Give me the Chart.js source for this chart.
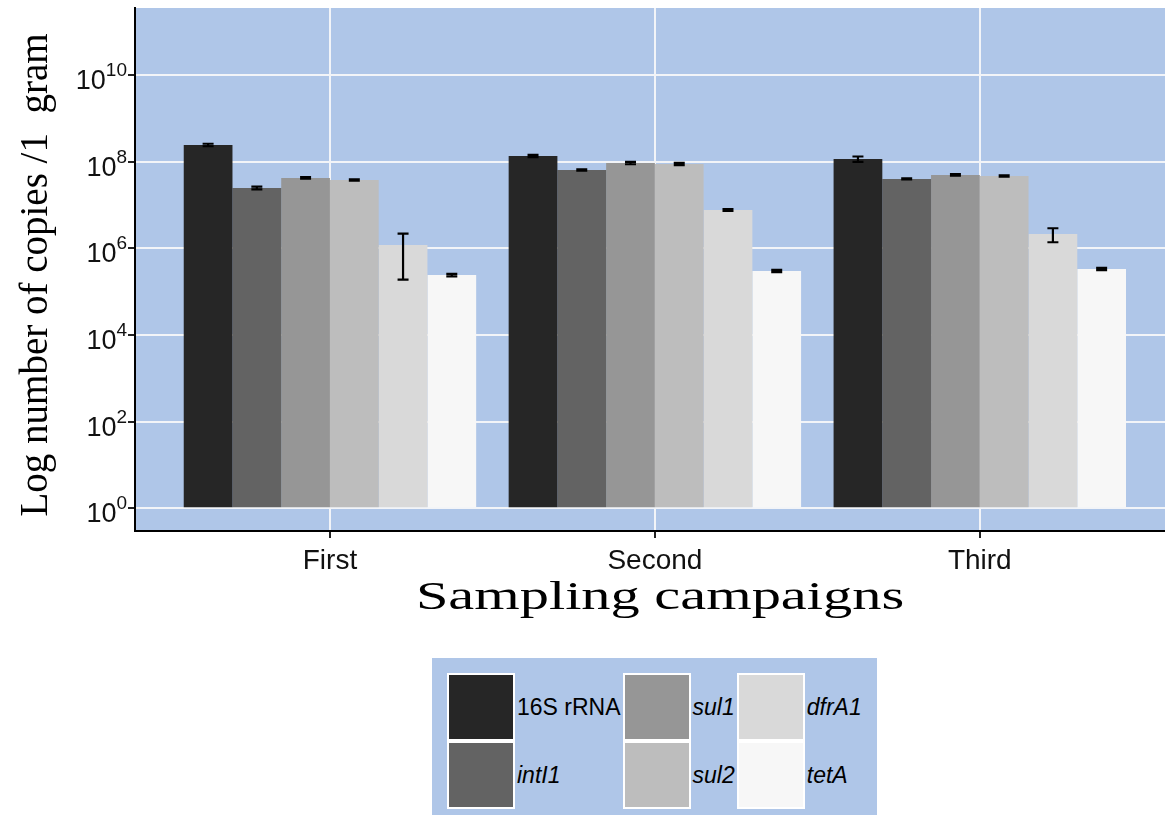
<!DOCTYPE html>
<html>
<head>
<meta charset="utf-8">
<title>Gene copies per sampling campaign</title>
<script src="https://cdn.jsdelivr.net/npm/chart.js@4.4.1/dist/chart.umd.min.js"></script>
<style>
  html, body { margin: 0; padding: 0; background: #fff; overflow: hidden; }
  #wrap { position: relative; width: 1165px; height: 820px; }
  #legend {
    position: absolute; left: 432px; top: 658px;
    background: #AFC6E8;
    padding: 15px 15px 6px 15px;
    display: grid;
    grid-template-rows: 68px 68px;
    grid-auto-flow: column;
    column-gap: 2px;
    font-family: 'Liberation Sans', Arial, sans-serif;
    font-size: 23px;
    color: #000;
  }
  .item { display: flex; align-items: center; }
  .key { display: block; width: 64px; height: 64px; border: 2px solid #fff; }
  .label { margin-left: 2px; }
  .label.gene { font-style: italic; }
</style>
</head>
<body>
<div id="wrap">
  <canvas id="copiesChart" width="1165" height="820"></canvas>
  <div id="legend"></div>
</div>
<script>
// campaigns and genes
const campaigns = ['First', 'Second', 'Third'];
const genes = ['16S rRNA', 'intI1', 'sul1', 'sul2', 'dfrA1', 'tetA'];
const geneColors = ['#262626', '#636363', '#969696', '#BDBDBD', '#D9D9D9', '#F7F7F7'];

// mean copies per gram (First, Second, Third)
const copies16S   = [2.42e8, 1.35e8, 1.15e8];
const copiesIntI1 = [2.47e7, 6.41e7, 3.98e7];
const copiesSul1  = [4.2e7, 9.3e7, 4.92e7];
const copiesSul2  = [3.77e7, 8.83e7, 4.67e7];
const copiesDfrA1 = [1.19e6, 7.66e6, 2.14e6];
const copiesTetA  = [2.42e5, 3.0e5, 3.33e5];

// standard deviations
const sd16S   = [1.6e7, 8e6, 1.6e7];
const sdIntI1 = [1.8e6, 2.5e6, 1.2e6];
const sdSul1  = [1.8e6, 6e6, 2e6];
const sdSul2  = [1.5e6, 5e6, 1.8e6];
const sdDfrA1 = [1.0e6, 4e5, 7.6e5];
const sdTetA  = [1.6e4, 1.7e4, 2e4];

// y axis: powers of ten shown
const yTicks = [1, 1e2, 1e4, 1e6, 1e8, 1e10];

const geneMeans = [copies16S, copiesIntI1, copiesSul1, copiesSul2, copiesDfrA1, copiesTetA];
const geneSds = [sd16S, sdIntI1, sdSul1, sdSul2, sdDfrA1, sdTetA];

const panelBlue = '#AFC6E8';
const gridWhite = '#F2F4F8';

// panel background
const plotBackground = {
    id: 'plotBackground',
    beforeDraw(chart) {
        const {ctx, chartArea: a} = chart;
        ctx.save();
        ctx.fillStyle = panelBlue;
        ctx.fillRect(a.left, a.top, a.right - a.left, a.bottom - a.top);
        ctx.restore();
    }
};

// mean +/- sd whiskers
const errorBars = {
    id: 'errorBars',
    afterDatasetsDraw(chart) {
        const {ctx} = chart;
        const y = chart.scales.y;
        ctx.save();
        ctx.strokeStyle = '#000';
        ctx.lineWidth = 2.2;
        chart.data.datasets.forEach((ds, di) => {
            const meta = chart.getDatasetMeta(di);
            meta.data.forEach((bar, i) => {
                const m = ds.data[i].y;
                const s = ds.sd[i];
                const top = y.getPixelForValue(m + s);
                const bottom = y.getPixelForValue(m - s);
                const half = 5.5;
                ctx.beginPath();
                ctx.moveTo(bar.x, top);
                ctx.lineTo(bar.x, bottom);
                ctx.moveTo(bar.x - half, top);
                ctx.lineTo(bar.x + half, top);
                ctx.moveTo(bar.x - half, bottom);
                ctx.lineTo(bar.x + half, bottom);
                ctx.stroke();
            });
        });
        ctx.restore();
    }
};

// y labels with superscript exponents, axis titles
const axisText = {
    id: 'axisText',
    afterDraw(chart) {
        const {ctx, chartArea: a} = chart;
        const y = chart.scales.y;
        ctx.save();
        ctx.fillStyle = '#111';
        ctx.textAlign = 'right';
        ctx.textBaseline = 'alphabetic';
        yTicks.forEach(v => {
            const py = y.getPixelForValue(v);
            const exp = String(Math.round(Math.log10(v)));
            ctx.font = '19px "Liberation Sans", Arial, sans-serif';
            const expWidth = ctx.measureText(exp).width;
            ctx.fillText(exp, 127, py + 1);
            ctx.font = '27px "Liberation Sans", Arial, sans-serif';
            ctx.fillText('10', 127 - expWidth, py + 14);
        });

        ctx.fillStyle = '#000';
        ctx.textAlign = 'center';
        ctx.font = '39px "Liberation Serif", "Times New Roman", serif';
        ctx.save();
        ctx.translate(47, 275);
        ctx.rotate(-Math.PI / 2);
        ctx.fillText('Log number of copies /1  gram', 0, 0);
        ctx.restore();

        ctx.font = '40px "Liberation Serif", "Times New Roman", serif';
        ctx.save();
        ctx.translate((a.left + a.right) / 2 + 10, 609);
        ctx.scale(1.46, 1);
        ctx.fillText('Sampling campaigns', 0, 0);
        ctx.restore();
        ctx.restore();
    }
};

Chart.defaults.font.family = '"Liberation Sans", Arial, sans-serif';
Chart.defaults.color = '#111';

const ctx = document.getElementById('copiesChart').getContext('2d');
const copiesChart = new Chart(ctx, {
    type: 'bar',
    data: {
        datasets: genes.map((name, g) => ({
            label: name,
            data: campaigns.map((c, i) => ({x: i + 1, y: geneMeans[g][i]})),
            sd: geneSds[g],
            backgroundColor: geneColors[g],
            borderWidth: 0,
            base: 1,
            barPercentage: 1,
            categoryPercentage: 0.9
        }))
    },
    options: {
        responsive: false,
        animation: false,
        layout: {
            padding: {top: 8, right: 0, bottom: 0, left: 0}
        },
        plugins: {
            legend: {display: false},
            tooltip: {enabled: false}
        },
        scales: {
            x: {
                type: 'linear',
                min: 0.4,
                max: 3.57,
                offset: false,
                afterBuildTicks: axis => {
                    axis.ticks = campaigns.map((c, i) => ({value: i + 1}));
                },
                afterFit: axis => {
                    axis.height = 289;
                },
                ticks: {
                    callback: v => campaigns[v - 1],
                    color: '#111',
                    padding: 6,
                    maxRotation: 0,
                    font: {size: 28}
                },
                grid: {
                    offset: false,
                    color: gridWhite,
                    lineWidth: 2,
                    tickColor: '#222',
                    tickLength: 7
                },
                border: {color: '#000', width: 2}
            },
            y: {
                type: 'logarithmic',
                min: 0.3,
                max: 3.5e11,
                afterBuildTicks: axis => {
                    axis.ticks = yTicks.map(v => ({value: v}));
                },
                afterFit: axis => {
                    axis.width = 135;
                },
                ticks: {display: false},
                grid: {
                    color: gridWhite,
                    lineWidth: 2,
                    tickColor: '#222',
                    tickLength: 7
                },
                border: {color: '#000', width: 2}
            }
        }
    },
    plugins: [plotBackground, errorBars, axisText]
});

// legend, three columns of two keys
const legendBox = document.getElementById('legend');
genes.forEach((name, i) => {
    const item = document.createElement('div');
    item.className = 'item';
    const key = document.createElement('span');
    key.className = 'key';
    key.style.background = geneColors[i];
    const label = document.createElement('span');
    label.className = i === 0 ? 'label' : 'label gene';
    label.textContent = name;
    item.appendChild(key);
    item.appendChild(label);
    legendBox.appendChild(item);
});
</script>
</body>
</html>
